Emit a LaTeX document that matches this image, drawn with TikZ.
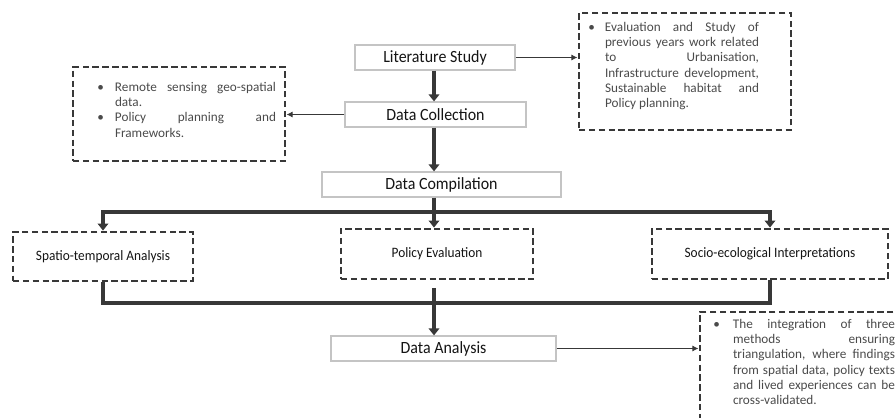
\documentclass[tikz,border=0pt]{standalone}
\usepackage{fontspec}
\usetikzlibrary{arrows.meta}
\newfontfamily\boxfont[FakeStretch=0.93]{Carlito}
\newfontfamily\notefont{Carlito}
\definecolor{ink}{HTML}{383838}
\definecolor{frame}{HTML}{C4C4C4}
\definecolor{notegray}{HTML}{4A4A4A}
\definecolor{boxtext}{HTML}{141414}
\newlength{\unitpx}\setlength{\unitpx}{0.025cm}
\newcommand{\notecontent}[6]{\parbox[c][#2\unitpx][t]{#1\unitpx}{\vspace*{#5\unitpx}%
  \leftskip=#3\unitpx\rightskip=#4\unitpx\hyphenpenalty=10000\tolerance=10000\hbadness=10000%
  \notefont\fontsize{9.4}{10.9}\selectfont\color{notegray}#6}}
\newcommand{\itembullet}[1]{\noindent\llap{\textbullet\hskip #1\unitpx}\ignorespaces}
\begin{document}
\begin{tikzpicture}[x=0.025cm, y=-0.025cm,
    stage/.style={draw=frame, line width=0.8pt, fill=white, inner sep=0pt, minimum height=0.625cm,
      text=boxtext, font=\boxfont\fontsize{12.2}{14}\selectfont},
    method/.style={draw=ink, line width=2pt, dash pattern=on 4.6pt off 2.4pt, inner sep=0pt,
      text=boxtext, font=\boxfont\fontsize{10.2}{12}\selectfont},
    note/.style={draw=ink, line width=2pt, dash pattern=on 4.6pt off 2.4pt, inner sep=0pt},
    trunk/.style={draw=ink, line width=3.4pt},
    trunkarrow/.style={trunk, -{Triangle[width=7.5pt,length=5pt]}},
    pointer/.style={draw=ink, line width=1pt, -{Latex[length=4.5pt,width=4.5pt]}}]
  \useasboundingbox (0,0) rectangle (896,418);
  \clip (0,0) rectangle (896,418);
  \coordinate (axis) at (434,0);
  \coordinate (split) at (434,212);
  \coordinate (merge) at (434,303);
  \coordinate (rejoin) at (434,288);

  \node[stage, minimum width=4cm] (lit) at (435,57.5) {Literature Study};
  \node[stage, minimum width=4.525cm] (coll) at (435.5,114.5) {Data Collection};
  \node[stage, minimum width=5.975cm] (comp) at (441.5,184.5) {Data Compilation};
  \node[stage, minimum width=5.625cm] (analysis) at (443.5,348.5) {Data Analysis};

  \node[method, minimum width=4.5cm, minimum height=1.225cm] (spatio) at (103,256.5) {Spatio-temporal Analysis};
  \node[method, minimum width=4.8cm, minimum height=1.25cm] (policy) at (437,254) {Policy Evaluation};
  \node[method, minimum width=5.9cm, minimum height=1.25cm] (socio) at (770,254) {Socio-ecological Interpretations};

  \node[note] (srcnote) at (179,114) {\notecontent{212}{94}{42}{9}{15}{%
    \itembullet{11}Remote sensing geo-spatial\linebreak data.\par
    \itembullet{11}Policy planning and\linebreak Frameworks.\par}};
  \node[note] (litnote) at (685,71.5) {\notecontent{212}{117}{26}{32}{9}{%
    \itembullet{10}Evaluation and Study of\linebreak previous years work related\linebreak
    to Urbanisation,\linebreak Infrastructure development,\linebreak
    Sustainable habitat and\linebreak Policy planning.\par}};
  \node[note] (outnote) at (807.5,366) {\notecontent{215}{108}{33}{20}{7}{%
    \itembullet{13}The integration of three\linebreak methods ensuring\linebreak
    triangulation, where findings\linebreak from spatial data, policy texts\linebreak
    and lived experiences can be\linebreak cross-validated.\par}};

  \draw[trunkarrow] (lit.south -| axis) -- (coll.north -| axis);
  \draw[trunkarrow] (coll.south -| axis) -- (comp.north -| axis);
  \draw[trunkarrow] (comp.south -| axis) -- (policy.north -| axis);
  \draw[trunkarrow] (split) -| (spatio.north);
  \draw[trunkarrow] (split) -| (socio.north);
  \draw[trunk] (spatio.south) |- (merge) -| (socio.south);
  \draw[trunkarrow] (rejoin) -- (analysis.north -| axis);

  \draw[pointer] (lit.east) -- (lit.east -| litnote.west);
  \draw[pointer] (coll.west) -- (coll.west -| srcnote.east);
  \draw[pointer] (analysis.east) -- (analysis.east -| outnote.west);
\end{tikzpicture}
\end{document}
